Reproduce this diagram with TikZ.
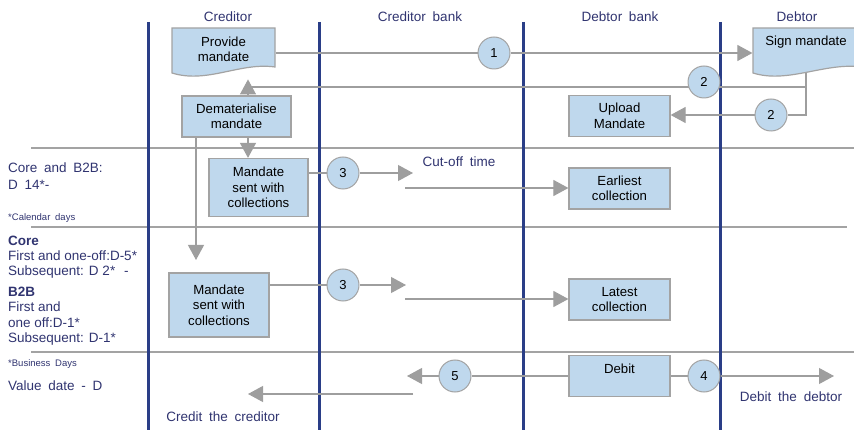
\documentclass[tikz,border=0pt]{standalone}
\usepackage{fontspec}
\setmainfont{Liberation Sans}
\newfontfamily\lanefont[WordSpace=1.8]{Liberation Sans}
\usetikzlibrary{arrows.meta,backgrounds}

\definecolor{laneblue}{RGB}{42,62,135}
\definecolor{headnavy}{RGB}{48,52,112}
\definecolor{boxfill}{RGB}{191,216,237}
\definecolor{boxline}{RGB}{163,163,163}
\definecolor{flowgray}{RGB}{158,158,158}

\newcommand{\boxfont}{\fontsize{13.2}{15.5}\selectfont}
\newcommand{\headfont}{\lanefont\fontsize{13.5}{16}\selectfont}
\newcommand{\rulefont}{\fontsize{13.5}{16}\selectfont}
\newcommand{\smallnote}{\lanefont\fontsize{9.5}{11}\selectfont}

\begin{document}
\begin{tikzpicture}[x=1pt,y=-1pt]
\tikzstyle{task}=[rectangle,draw=boxline,line width=1.2pt,fill=boxfill,text=black,font=\boxfont,align=center,inner sep=0pt,minimum width=101pt,minimum height=41pt]
\tikzstyle{doc}=[task,draw=none,fill=none,minimum height=0pt]
\tikzstyle{docshape}=[draw=boxline,line width=1.2pt,fill=boxfill]
\tikzstyle{seqno}=[circle,draw=boxline,line width=1pt,fill=boxfill,minimum size=32pt,inner sep=0pt,font=\fontsize{13}{15}\selectfont]
\tikzstyle{flowline}=[draw=flowgray,line width=1.1pt]
\tikzstyle{flow}=[flowline,-{Triangle[length=15pt,width=16pt]}]
\tikzstyle{lane}=[draw=laneblue,line width=3pt]
\tikzstyle{sep}=[draw=boxline,line width=1.2pt]
\tikzstyle{lanehead}=[font=\headfont,text=headnavy,inner sep=0pt]
\tikzstyle{note}=[anchor=west,inner sep=0pt,text height=9.5pt,text depth=0pt,font=\headfont,text=headnavy]

\useasboundingbox (0,0) rectangle (854,430);

% lane titles
\node[lanehead] (hcred) at (228,17) {Creditor};
\node[lanehead] (hcbank) at (420,17) {Creditor bank};
\node[lanehead] (hdbank) at (620,17) {Debtor bank};
\node[lanehead] (hdeb) at (797,17) {Debtor};

% process boxes
\node[doc,minimum width=103pt] (prov) at (223.5,49.5) {Provide\\mandate};
\node[doc,minimum width=106pt] (sign) at (806,42) {Sign mandate};
\node[task,minimum width=109pt] (dem) at (236.5,116.5) {Dematerialise\\mandate};
\node[task,minimum width=99pt,minimum height=58pt] (sent1) at (258.5,187.5) {Mandate\\sent with\\collections};
\node[task,minimum width=100pt,minimum height=64pt] (sent2) at (219,305) {Mandate\\sent with\\collections};
\node[task] (upload) at (619.5,116) {Upload\\Mandate};
\node[task] (earliest) at (619.5,188.5) {Earliest\\collection};
\node[task] (latest) at (619.5,299.5) {Latest\\collection};
\node[task,text depth=14pt] (debit) at (619.5,376) {Debit};

% numbered steps
\node[seqno] (c1) at (494,53) {1};
\node[seqno] (c2a) at (704,82) {2};
\node[seqno] (c2b) at (771,115) {2};
\node[seqno] (c3a) at (343,173) {3};
\node[seqno] (c3b) at (343,285) {3};
\node[seqno] (c4) at (704,376) {4};
\node[seqno] (c5) at (455,376) {5};

% free ends of the flows
\coordinate (sgnb) at (806,66);
\coordinate (ret) at (248,87);
\coordinate (late) at (196,260);
\coordinate (cut1) at (413,173);
\coordinate (cut2) at (405,188);
\coordinate (cut3) at (406,285);
\coordinate (cut4) at (405,299);
\coordinate (cred1) at (407,376);
\coordinate (cred2) at (413,394);
\coordinate (cred3) at (248,394);
\coordinate (deb) at (834,376);

% captions
\node[lanehead] (cutoff) at (459,162) {Cut-off time};
\node[lanehead] (credit) at (223,417) {Credit the creditor};
\node[lanehead] (debtor) at (791,397) {Debit the debtor};

\foreach \ny/\nt in {168/{Core and B2B:},185/{D 14*-},386/{Value date - D}}
  \node[note] (t\ny) at (8,\ny) {\nt};
\foreach \ny/\nt in {241/{\bfseries Core},256/{First and one-off:D-5*},271/{Subsequent: D 2*\hspace{9pt}-},
    292/{\bfseries B2B},307/{First and},323/{one off:D-1*},338/{Subsequent: D-1*}}
  \node[note,font=\rulefont] (t\ny) at (8,\ny) {\nt};
\node[note,font=\smallnote,text height=7pt] (cal) at (8,217) {*Calendar days};
\node[note,font=\smallnote,text height=7pt] (bus) at (8,363) {*Business Days};

\begin{scope}[on background layer]
% swimlanes
\draw[sep] (31,148) -- (854,148);
\draw[sep] (31,227) -- (847,227);
\draw[sep] (31,352) -- (854,352);
\foreach \lx in {148,319,523,720}
  \draw[lane] (\lx,22) -- (\lx,430);

% flows
\draw[flow] (prov.east |- c1) -- (c1) -- (c1 -| sign.west);
\draw[flowline] (sgnb) |- (ret);
\draw[flow] (sgnb) |- (c2b) -- (c2b -| upload.east);
\draw[flow] (dem.north -| ret) -- ++(0,-16);
\draw[flow] (dem.south -| ret) -- (sent1.north -| ret);
\draw[flow] (dem.south -| late) -- (late);
\draw[flow] (sent1.east |- c3a) -- (c3a) -- (cut1);
\draw[flow] (cut2) -- (cut2 -| earliest.west);
\draw[flow] (sent2.east |- c3b) -- (c3b) -- (cut3);
\draw[flow] (cut4) -- (cut4 -| latest.west);
\draw[flow] (debit) -- (c5) -- (cred1);
\draw[flow] (cred2) -- (cred3);
\draw[flow] (debit) -- (c4) -- (deb);

% document shapes
\draw[docshape] (172,28) -- (275,28) -- (275,67) .. controls (240,62) and (207,84) .. (172,73) -- cycle;
\draw[docshape] (753,28) -- (862,28) -- (862,67) .. controls (825,62) and (788,84) .. (753,73) -- cycle;
\end{scope}
\end{tikzpicture}
\end{document}
